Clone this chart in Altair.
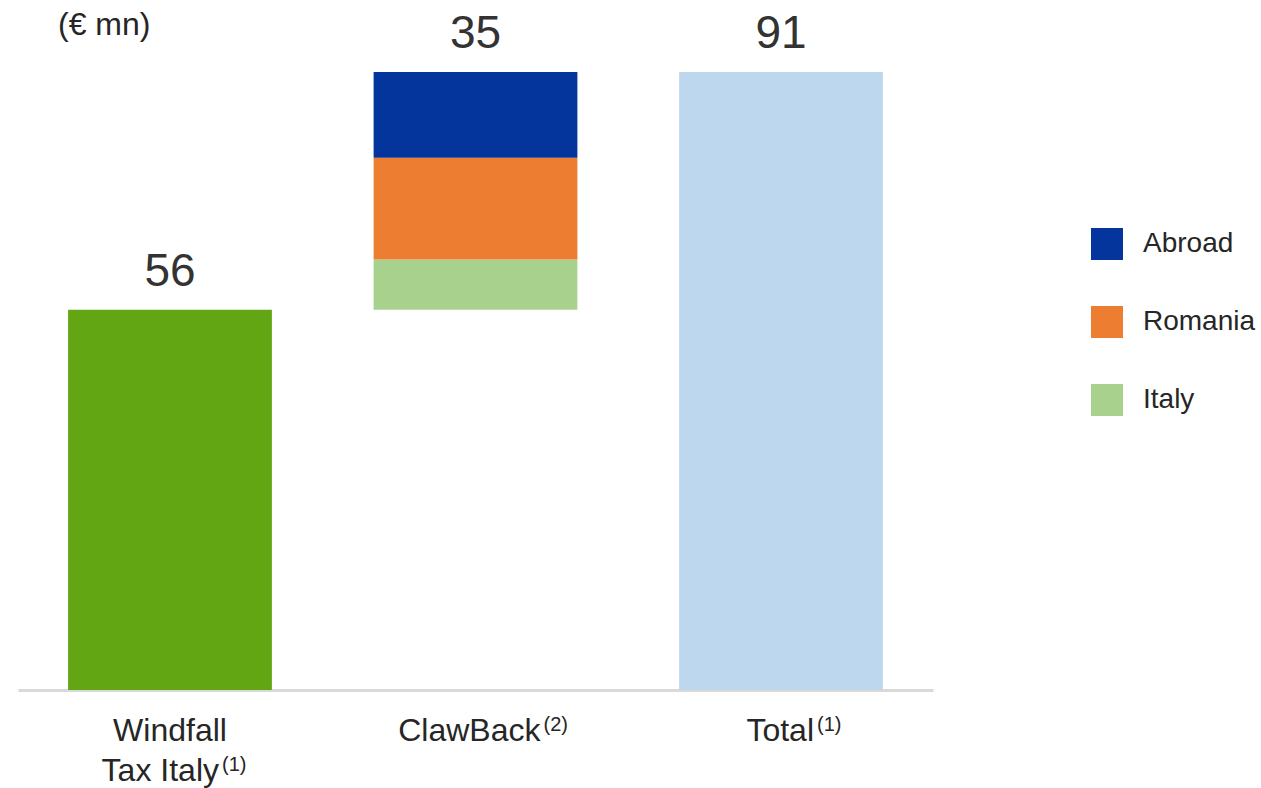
import altair as alt
import pandas as pd

# data
categories = ["Windfall Tax Italy", "ClawBack", "Total"]
windfall_value = 56
clawback_segments = ["Italy", "Romania", "Abroad"]
clawback_values = [7.4, 15.0, 12.6]
total_value = 91
bar_labels = ["56", "35", "91"]
label_heights = [56, 91, 91]

# axis label pieces: first line, second line, footnote marker
label_line1 = ["Windfall", "ClawBack", "Total"]
label_line2 = ["Tax Italy", "", ""]
footnotes = ["(1)", "(2)", "(1)"]

colors = {
    "Windfall": "#63a614",
    "Total": "#bdd7ee",
    "Abroad": "#03359c",
    "Romania": "#ed7d31",
    "Italy": "#a9d18e",
}

rows = [{"cat": categories[0], "seg": "Windfall", "start": 0, "end": windfall_value}]
base = windfall_value
for s, v in zip(clawback_segments, clawback_values):
    rows.append({"cat": categories[1], "seg": s, "start": base, "end": base + v})
    base += v
rows.append({"cat": categories[2], "seg": "Total", "start": 0, "end": total_value})
bars_df = pd.DataFrame(rows)

labels_df = pd.DataFrame({"cat": categories, "txt": bar_labels, "h": label_heights})

FONT = "Liberation Sans"
TXT = "#262626"

xscale = alt.Scale(paddingInner=0.333, paddingOuter=0.164)
xenc = alt.X(
    "cat:N",
    sort=categories,
    title=None,
    scale=xscale,
    axis=alt.Axis(
        domainColor="#d9d9d9",
        domainWidth=3,
        ticks=False,
        labels=False,
    ),
)

yscale = alt.Scale(domain=[0, 100], nice=False, zero=True)

bars = alt.Chart(bars_df).mark_bar().encode(
    x=xenc,
    y=alt.Y("start:Q", scale=yscale, axis=None),
    y2="end:Q",
    color=alt.Color(
        "seg:N",
        scale=alt.Scale(domain=list(colors.keys()), range=list(colors.values())),
        legend=alt.Legend(
            values=["Abroad", "Romania", "Italy"],
            title=None,
            orient="none",
            legendX=1073,
            legendY=217,
            symbolType="square",
            symbolSize=1024,
            symbolStrokeWidth=0,
            labelFont=FONT,
            labelFontSize=28,
            labelColor=TXT,
            labelOffset=20,
            rowPadding=46,
        ),
    ),
)

texts = alt.Chart(labels_df).mark_text(
    font=FONT, fontSize=46, color="#333333", baseline="alphabetic", dy=-24
).encode(
    x=alt.X("cat:N", sort=categories),
    y=alt.Y("h:Q", scale=yscale),
    text="txt:N",
)

# category labels drawn as text marks (to allow superscript footnotes)
layers = [bars, texts]
line2_dx = [49, 0, 0]
sup_dx = [52, 68, 36]
main_dx = [0, 65, 33]
for i, cat in enumerate(categories):
    d = pd.DataFrame({"cat": [cat], "l1": [label_line1[i]], "l2": [label_line2[i]], "fn": [footnotes[i]]})
    has2 = label_line2[i] != ""
    if has2:
        l1 = alt.Chart(d).mark_text(font=FONT, fontSize=32, color=TXT, baseline="alphabetic", align="center").encode(
            x=alt.X("cat:N", sort=categories), y=alt.value(730), text="l1:N")
        l2 = alt.Chart(d).mark_text(font=FONT, fontSize=32, color=TXT, baseline="alphabetic", align="right",
                                    dx=line2_dx[i]).encode(
            x=alt.X("cat:N", sort=categories), y=alt.value(770), text="l2:N")
        fn = alt.Chart(d).mark_text(font=FONT, fontSize=20, color=TXT, baseline="alphabetic", align="left",
                                    dx=sup_dx[i]).encode(
            x=alt.X("cat:N", sort=categories), y=alt.value(760), text="fn:N")
        layers += [l1, l2, fn]
    else:
        l1 = alt.Chart(d).mark_text(font=FONT, fontSize=32, color=TXT, baseline="alphabetic", align="right",
                                    dx=main_dx[i]).encode(
            x=alt.X("cat:N", sort=categories), y=alt.value(730), text="l1:N")
        fn = alt.Chart(d).mark_text(font=FONT, fontSize=20, color=TXT, baseline="alphabetic", align="left",
                                    dx=sup_dx[i]).encode(
            x=alt.X("cat:N", sort=categories), y=alt.value(720), text="fn:N")
        layers += [l1, fn]

unit = alt.Chart(pd.DataFrame({"t": ["(€ mn)"]})).mark_text(
    font=FONT, fontSize=32, color=TXT, align="left", baseline="alphabetic"
).encode(x=alt.value(40), y=alt.value(24), text="t:N")
layers.append(unit)

chart = (
    alt.layer(*layers)
    .properties(
        width=915,
        height=679,
        autosize=alt.AutoSizeParams(type="none"),
        padding={"left": 18, "top": 11, "right": 328, "bottom": 98},
    )
    .configure_view(stroke=None)
)

chart.save("out.html", embed_options={"renderer": "svg", "actions": False})
